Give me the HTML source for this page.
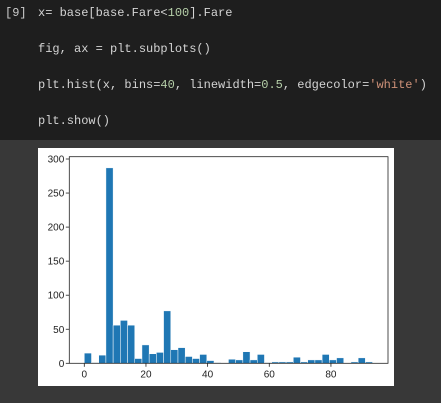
<!DOCTYPE html>
<html><head><meta charset="utf-8"><style>
body{margin:0;width:441px;height:403px;overflow:hidden;background:#383838;font-family:"Liberation Sans",sans-serif}
#code{position:absolute;left:0;top:0;width:441px;height:140px;background:#1e1e1e;font-family:"Liberation Mono",monospace;font-size:12px;color:#d4d4d4}
.ln{position:absolute;left:38px;white-space:pre}
.num{color:#b5cea8}.str{color:#ce9178}
#img{position:absolute;left:38px;top:148px;width:356px;height:238px;background:#fff}
</style></head><body>
<div id="code">
<div class="ln" style="left:5px;top:6px;color:#ccc">[9]</div>
<div class="ln" style="top:6px">x= base[base.Fare&lt;<span class="num">100</span>].Fare</div>
<div class="ln" style="top:42px">fig, ax = plt.subplots()</div>
<div class="ln" style="top:78px">plt.hist(x, bins=<span class="num">40</span>, linewidth=<span class="num">0.5</span>, edgecolor=<span class="str">'white'</span>)</div>
<div class="ln" style="top:114px">plt.show()</div>
</div>
<div id="img">
<svg id="svg" width="356" height="238"></svg>
</div>
<script>
const counts=[15,1,12,287,56,63,56,7,27,14,16,77,20,23,10,7,13,4,1,0,6,5,17,5,13,1,2,2,2,9,2,5,5,13,5,8,0,2,8,2];
const xMin=0,xMax=93.5;
const xTicks=[0,20,40,60,80];
const yTicks=[0,50,100,150,200,250,300];
const ox=38,oy=148;
const L=69.3-ox,R=388-ox,T=156.7-oy,B=363.3-oy;
const X0=84.3-ox,xs=3.083;
const x=v=>X0+v*xs;
const y=v=>B-v*(B-(159-oy))/300;
const svg=document.getElementById('svg');
const NS='http://www.w3.org/2000/svg';
function mk(t,a){const e=document.createElementNS(NS,t);for(const k in a)e.setAttribute(k,a[k]);svg.appendChild(e);return e;}
const bw=(xMax-xMin)/counts.length;
counts.forEach((c,i)=>{
  const r=mk('rect',{x:x(xMin+i*bw),y:y(c),width:bw*xs,height:B-y(c),fill:'#1f77b4',stroke:'#fff','stroke-width':0.5});
  
  
});
const fr=mk('rect',{x:L,y:T,width:R-L,height:B-T,fill:'none',stroke:'#222','stroke-width':0.8});


xTicks.forEach(v=>{
  mk('line',{x1:x(v),x2:x(v),y1:B,y2:B+3.5,stroke:'#222','stroke-width':0.8});
  const t=mk('text',{x:x(v),y:B+14,'font-size':10,'text-anchor':'middle',fill:'#222'});
  t.textContent=v;
  
  
});
yTicks.forEach(v=>{
  mk('line',{x1:L-3.5,x2:L,y1:y(v),y2:y(v),stroke:'#222','stroke-width':0.8});
  const t=mk('text',{x:L-5,y:y(v)+3.5,'font-size':10,'text-anchor':'end',fill:'#222'});
  t.textContent=v;
  
  
});
</script>
</body></html>
